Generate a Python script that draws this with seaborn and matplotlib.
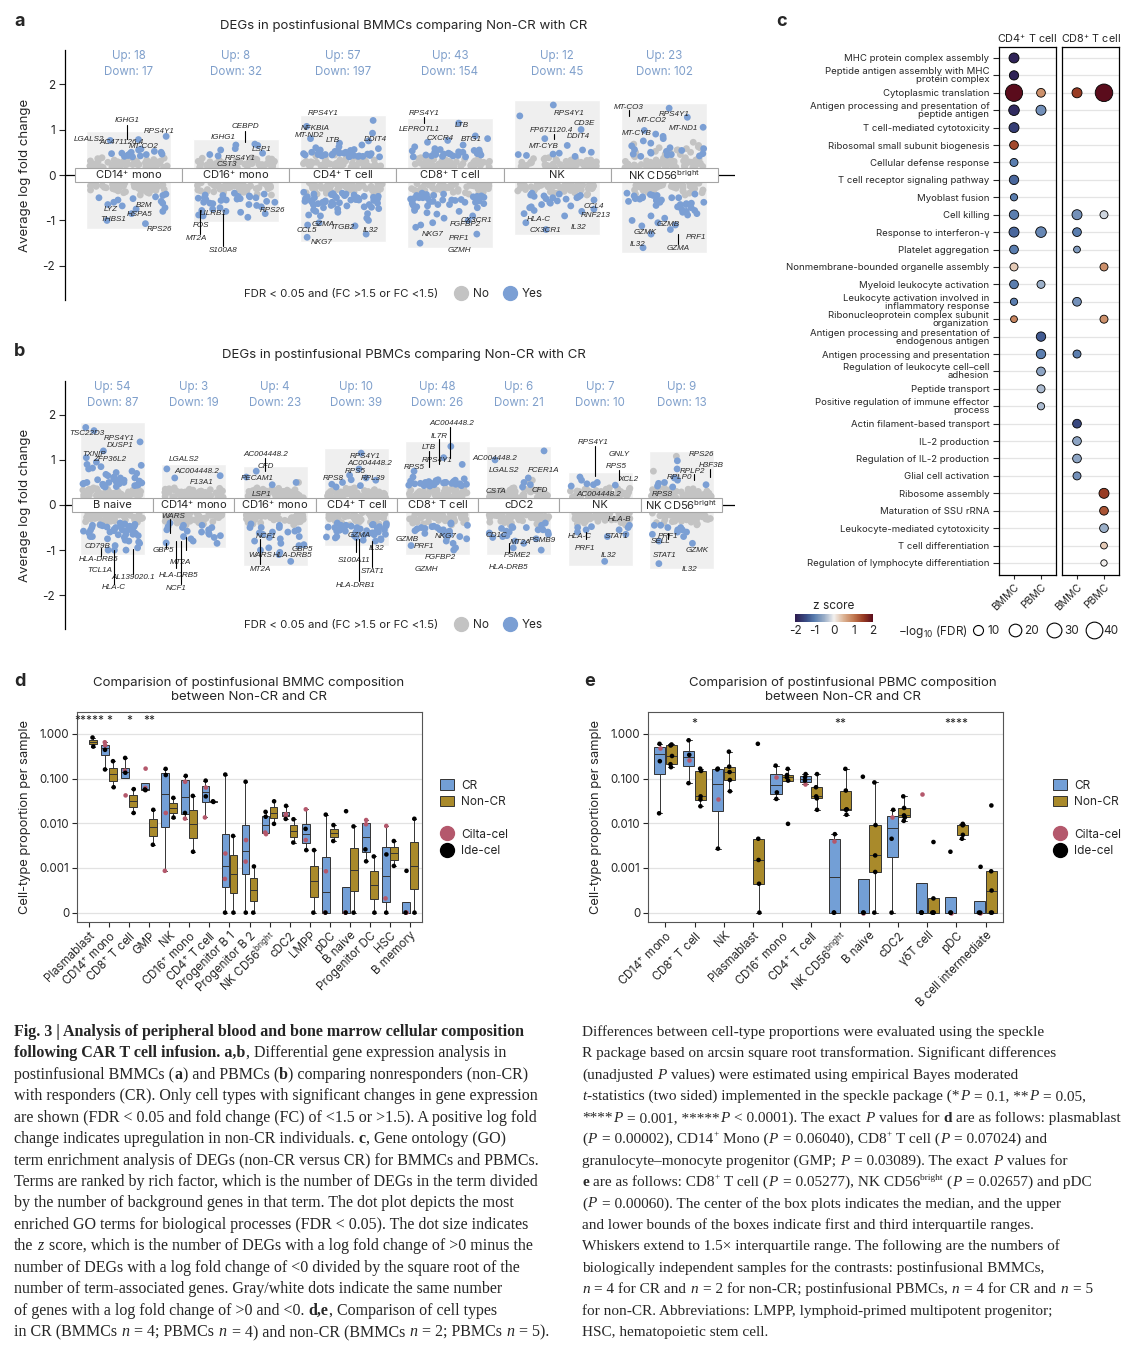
import numpy as np
import pandas as pd
import matplotlib
matplotlib.use("Agg")
import matplotlib.pyplot as plt
import seaborn as sns
from matplotlib.colors import LinearSegmentedColormap, Normalize
from matplotlib.lines import Line2D
from matplotlib.patches import Patch

W, H = 1142, 1350

sns.set_style("white")
plt.rcParams["font.family"] = ["Inter", "DejaVu Sans"]
plt.rcParams["mathtext.fontset"] = "custom"
plt.rcParams["mathtext.rm"] = "Inter"
plt.rcParams["mathtext.it"] = "Inter"
plt.rcParams["mathtext.bf"] = "Inter:bold"
plt.rcParams["axes.unicode_minus"] = False

GREY = "#c3c3c3"
BLUE = "#7b9fd4"
UPC = "#7f9fcb"
CRC = "#739fd6"
NCRC = "#a98a2b"
PINK = "#b4586c"

# ---------------- data: panels a / b (log fold change per gene) ----------------
grey_up = [0.16, 0.31, 0.22, 0.18, 0.27, 0.35, 0.2, 0.24, 0.17, 0.29, 0.33, 0.19, 0.26, 0.21, 0.38,
           0.23, 0.16, 0.3, 0.25, 0.18, 0.28, 0.34, 0.2, 0.22, 0.36, 0.17, 0.27, 0.24, 0.19, 0.32,
           0.21, 0.26, 0.18, 0.3, 0.23, 0.37, 0.2, 0.25, 0.28, 0.17, 0.22, 0.29, 0.19, 0.33, 0.24,
           0.18, 0.26, 0.31, 0.2, 0.35, 0.23, 0.28, 0.17, 0.3, 0.21]
grey_dn = [-0.17, -0.33, -0.24, -0.2, -0.29, -0.38, -0.22, -0.26, -0.18, -0.31, -0.36, -0.21, -0.28,
           -0.23, -0.42, -0.25, -0.17, -0.32, -0.27, -0.19, -0.3, -0.37, -0.22, -0.24, -0.4, -0.18,
           -0.29, -0.26, -0.2, -0.35, -0.23, -0.28, -0.19, -0.33, -0.25, -0.44, -0.21, -0.27, -0.3,
           -0.18, -0.24, -0.31, -0.2, -0.36, -0.26, -0.19, -0.28, -0.34, -0.22, -0.39, -0.25, -0.3,
           -0.18, -0.32, -0.23]

a_cells = ["CD14+ mono", "CD16+ mono", "CD4+ T cell", "CD8+ T cell", "NK", "NK CD56bright"]
a_disp = ["CD14$^{+}$ mono", "CD16$^{+}$ mono", "CD4$^{+}$ T cell", "CD8$^{+}$ T cell", "NK",
          "NK CD56$^{\\mathrm{bright}}$"]
a_up_n = [18, 8, 57, 43, 12, 23]
a_down_n = [17, 32, 197, 154, 45, 102]
a_yes_up = [
    [0.85, 0.78, 0.76, 0.57, 0.55, 0.52, 0.5, 0.5, 0.48, 0.47, 0.47, 0.46, 0.45, 0.44, 0.43, 0.42, 0.41, 0.4],
    [0.68, 0.66, 0.65, 0.58, 0.55, 0.48, 0.45, 0.42],
    [1.2, 1.07, 0.92, 0.8, 0.75, 0.7, 0.66, 0.62, 0.6, 0.58, 0.56, 0.55, 0.54, 0.53, 0.52, 0.51, 0.5, 0.5,
     0.49, 0.48, 0.48, 0.47, 0.47, 0.46, 0.46, 0.45, 0.45, 0.44, 0.44, 0.43, 0.43, 0.42, 0.42, 0.41, 0.41,
     0.4, 0.4, 0.52, 0.5, 0.47],
    [1.14, 0.86, 0.8, 0.76, 0.72, 0.66, 0.62, 0.58, 0.56, 0.54, 0.53, 0.52, 0.5, 0.5, 0.49, 0.48, 0.47,
     0.46, 0.46, 0.45, 0.44, 0.44, 0.43, 0.42, 0.42, 0.41, 0.4, 0.4, 0.55, 0.51],
    [1.54, 1.3, 1.0, 0.8, 0.65, 0.55, 0.5, 0.48, 0.46, 0.45, 0.43, 0.41],
    [1.47, 1.27, 1.05, 0.98, 0.9, 0.85, 0.8, 0.75, 0.7, 0.64, 0.6, 0.58, 0.56, 0.54, 0.52, 0.5, 0.48,
     0.47, 0.46, 0.45, 0.44, 0.42, 0.41],
]
a_yes_dn = [
    [-0.42, -0.45, -0.48, -0.5, -0.52, -0.55, -0.58, -0.6, -0.62, -0.65, -0.68, -0.72, -0.75, -0.8, -0.85,
     -1.0, -1.07],
    [-0.4, -0.42, -0.44, -0.45, -0.47, -0.48, -0.5, -0.5, -0.52, -0.53, -0.55, -0.56, -0.58, -0.6, -0.62,
     -0.63, -0.65, -0.67, -0.7, -0.72, -0.75, -0.78, -0.8, -0.82, -0.85, -0.88, -0.9, -0.93, -0.46, -0.54,
     -0.6, -0.51],
    [-0.38, -0.4, -0.41, -0.42, -0.43, -0.44, -0.45, -0.46, -0.47, -0.48, -0.49, -0.5, -0.5, -0.51, -0.52,
     -0.53, -0.54, -0.55, -0.55, -0.56, -0.57, -0.58, -0.59, -0.6, -0.6, -0.61, -0.62, -0.63, -0.64, -0.65,
     -0.66, -0.67, -0.68, -0.7, -0.71, -0.72, -0.74, -0.75, -0.77, -0.8, -0.82, -0.85, -0.88, -0.9, -0.95,
     -1.0, -1.05, -1.1, -1.12, -1.3, -1.37, -0.45, -0.5, -0.55, -0.6, -0.65, -0.42, -0.47, -0.52, -0.57],
    [-0.4, -0.42, -0.43, -0.44, -0.45, -0.46, -0.47, -0.48, -0.49, -0.5, -0.51, -0.52, -0.53, -0.54, -0.55,
     -0.56, -0.57, -0.58, -0.59, -0.6, -0.62, -0.63, -0.65, -0.66, -0.68, -0.7, -0.72, -0.75, -0.78, -0.8,
     -0.83, -0.86, -0.9, -0.95, -1.0, -1.05, -1.1, -1.15, -1.3, -1.5, -0.45, -0.5, -0.55, -0.6, -0.65],
    [-0.4, -0.42, -0.44, -0.45, -0.47, -0.48, -0.5, -0.5, -0.52, -0.55, -0.57, -0.6, -0.62, -0.65, -0.68,
     -0.7, -0.72, -0.75, -0.78, -0.8, -0.85, -0.9, -1.05, -1.2, -0.46, -0.53],
    [-0.4, -0.42, -0.43, -0.45, -0.46, -0.48, -0.5, -0.5, -0.52, -0.53, -0.55, -0.56, -0.58, -0.6, -0.62,
     -0.63, -0.65, -0.67, -0.7, -0.72, -0.75, -0.78, -0.8, -0.82, -0.85, -0.88, -0.9, -0.95, -1.0, -1.05,
     -1.1, -1.12, -1.2, -1.3, -1.6, -0.45, -0.5, -0.55, -0.6, -0.65],
]
a_no_extra = [[], [], [0.42, 0.4, 0.44], [], [], [0.72, 0.68, 0.65, 0.62, 0.6, 0.58, 0.55, 0.52, 0.5, 0.48,
                                                 0.46, 0.44, 0.42, 0.55, 0.5, 0.45, 0.6, 0.4]]
a_genes = [
    (0, "IGHG1", -0.01, 1.21), (0, "LGALS2", -0.37, 0.79), (0, "AC471126.4", -0.07, 0.72),
    (0, "MT-CO2", 0.14, 0.62), (0, "RPS4Y1", 0.29, 0.95), (0, "LYZ", -0.17, -0.75), (0, "B2M", 0.14, -0.68),
    (0, "HSPA5", 0.1, -0.87), (0, "THBS1", -0.14, -0.97), (0, "RPS26", 0.29, -1.19),
    (1, "CEBPD", 0.09, 1.07), (1, "IGHG1", -0.12, 0.83), (1, "LSP1", 0.24, 0.56), (1, "RPS4Y1", 0.04, 0.36),
    (1, "CST3", -0.08, 0.23), (1, "LILRB1", -0.21, -0.84), (1, "FOS", -0.32, -1.11), (1, "MT2A", -0.37, -1.4),
    (1, "S100A8", -0.12, -1.66), (1, "RPS26", 0.34, -0.79),
    (2, "RPS4Y1", -0.18, 1.35), (2, "NFKBIA", -0.26, 1.03), (2, "MT-ND2", -0.31, 0.87), (2, "LTB", -0.09, 0.76),
    (2, "DDIT4", 0.3, 0.78), (2, "GZMA", -0.18, -1.08), (2, "ITGB2", 0.0, -1.15), (2, "CCL5", -0.34, -1.22),
    (2, "NKG7", -0.2, -1.48), (2, "IL32", 0.26, -1.22),
    (3, "RPS4Y1", -0.24, 1.36), (3, "LEPROTL1", -0.29, 1.0), (3, "LTB", 0.11, 1.08), (3, "CXCR4", -0.09, 0.81),
    (3, "BTG1", 0.2, 0.79), (3, "CX3CR1", 0.25, -0.99), (3, "FGFBP2", 0.14, -1.1), (3, "NKG7", -0.16, -1.32),
    (3, "PRF1", 0.08, -1.4), (3, "GZMH", 0.09, -1.66),
    (4, "RPS4Y1", 0.11, 1.36), (4, "CD3E", 0.25, 1.14), (4, "FP671120.4", -0.05, 0.98), (4, "DDIT4", 0.2, 0.84),
    (4, "MT-CYB", -0.13, 0.63), (4, "CCL4", 0.34, -0.69), (4, "RNF213", 0.36, -0.89), (4, "HLA-C", -0.17, -0.97),
    (4, "IL32", 0.2, -1.16), (4, "CX3CR1", -0.11, -1.22),
    (5, "MT-CO3", -0.33, 1.49), (5, "MT-CO2", -0.12, 1.21), (5, "RPS4Y1", 0.09, 1.32), (5, "MT-ND1", 0.18, 1.03),
    (5, "MT-CYB", -0.26, 0.91), (5, "GZMB", 0.04, -1.08), (5, "GZMK", -0.18, -1.27), (5, "PRF1", 0.3, -1.37),
    (5, "GZMA", 0.13, -1.62), (5, "IL32", -0.25, -1.53),
]
a_leaders = [(0, -0.01, 1.1, 0.8), (1, 0.09, 0.97, 0.72), (1, -0.33, -0.78, -1.3), (1, -0.12, -0.86, -1.56),
             (3, -0.24, 1.28, 1.15), (4, -0.03, 0.9, 0.8), (5, -0.33, 1.42, 1.3), (5, 0.13, -1.52, -1.3)]

b_cells = ["B naive", "CD14+ mono", "CD16+ mono", "CD4+ T cell", "CD8+ T cell", "cDC2", "NK", "NK CD56bright"]
b_disp = ["B naive", "CD14$^{+}$ mono", "CD16$^{+}$ mono", "CD4$^{+}$ T cell", "CD8$^{+}$ T cell", "cDC2", "NK",
          "NK CD56$^{\\mathrm{bright}}$"]
b_up_n = [54, 3, 4, 10, 48, 6, 7, 9]
b_down_n = [87, 19, 23, 39, 26, 21, 10, 13]
b_yes_up = [
    [1.72, 1.65, 1.4, 1.2, 1.05, 0.95, 0.9, 0.88, 0.85, 0.82, 0.8, 0.75, 0.72, 0.7, 0.68, 0.65, 0.62, 0.6,
     0.58, 0.56, 0.55, 0.53, 0.52, 0.5, 0.5, 0.49, 0.48, 0.47, 0.46, 0.45, 0.45, 0.44, 0.43, 0.42, 0.41,
     0.4, 0.6, 0.55, 0.5, 0.47],
    [0.8, 0.65, 0.6],
    [0.75, 0.62, 0.5, 0.45],
    [1.15, 0.8, 0.66, 0.6, 0.56, 0.55, 0.5, 0.46, 0.43, 0.4],
    [1.3, 1.05, 0.9, 0.75, 0.62, 0.58, 0.56, 0.55, 0.54, 0.53, 0.52, 0.52, 0.51, 0.5, 0.5, 0.49, 0.49, 0.48,
     0.48, 0.47, 0.47, 0.46, 0.46, 0.45, 0.45, 0.44, 0.44, 0.43, 0.43, 0.42, 0.5, 0.48],
    [1.2, 1.0, 0.6, 0.5, 0.45, 0.4],
    [0.62, 0.55, 0.5, 0.47, 0.45, 0.44, 0.42],
    [0.98, 0.8, 0.6, 0.55, 0.5, 0.48, 0.45, 0.42, 0.4],
]
b_yes_dn = [
    [-0.4, -0.42, -0.43, -0.44, -0.45, -0.46, -0.47, -0.48, -0.49, -0.5, -0.51, -0.52, -0.53, -0.54, -0.55,
     -0.56, -0.57, -0.58, -0.6, -0.62, -0.63, -0.65, -0.66, -0.68, -0.7, -0.72, -0.75, -0.78, -0.8, -0.82,
     -0.85, -0.9, -0.95, -1.0, -1.0, -1.0, -0.45, -0.5, -0.55, -0.6, -0.65, -0.7, -0.47, -0.52],
    [-0.4, -0.45, -0.5, -0.5, -0.55, -0.55, -0.6, -0.62, -0.65, -0.68, -0.7, -0.72, -0.75, -0.8, -0.84,
     -0.85, -0.45, -0.58, -0.48],
    [-0.42, -0.45, -0.5, -0.5, -0.55, -0.58, -0.6, -0.62, -0.65, -0.7, -0.72, -0.75, -0.8, -0.85, -0.88,
     -0.9, -0.95, -1.0, -1.05, -1.1, -1.25, -0.5, -0.6],
    [-0.4, -0.42, -0.44, -0.45, -0.47, -0.5, -0.5, -0.52, -0.55, -0.56, -0.58, -0.6, -0.62, -0.65, -0.67,
     -0.7, -0.72, -0.75, -0.78, -0.8, -0.45, -0.5, -0.55, -0.6, -0.48, -0.53, -0.58, -0.63, -0.68, -0.73,
     -0.43, -0.46, -0.52, -0.57, -0.62, -0.66, -0.71, -0.77, -0.49],
    [-0.4, -0.45, -0.48, -0.5, -0.52, -0.55, -0.58, -0.6, -0.62, -0.65, -0.68, -0.7, -0.72, -0.75, -0.8,
     -0.85, -0.9, -0.95, -1.0, -0.47, -0.53, -0.57, -0.63, -0.42, -0.5, -0.55],
    [-0.4, -0.45, -0.48, -0.5, -0.52, -0.55, -0.58, -0.6, -0.62, -0.65, -0.68, -0.7, -0.72, -0.75, -0.8,
     -0.85, -0.95, -1.0, -0.5, -0.55, -0.6],
    [-0.45, -0.5, -0.55, -0.55, -0.6, -0.7, -0.5, -0.48, -0.65, -1.25],
    [-0.45, -0.5, -0.5, -0.55, -0.55, -0.6, -0.6, -0.65, -0.7, -0.8, -0.85, -0.45, -1.3],
]
b_no_extra = [[], [], [0.5], [], [], [0.5, 0.55], [], [1.08, 0.75, 0.62]]
b_genes = [
    (0, "TSC22D3", -0.32, 1.58), (0, "RPS4Y1", 0.08, 1.48), (0, "DUSP1", 0.09, 1.31), (0, "TXNIP", -0.23, 1.13),
    (0, "ZFP36L2", -0.04, 1.01), (0, "CD79B", -0.19, -0.91), (0, "HLA-DRB5", -0.17, -1.21),
    (0, "TCL1A", -0.16, -1.46), (0, "AL139020.1", 0.25, -1.6), (0, "HLA-C", 0.02, -1.84),
    (1, "LGALS2", -0.12, 1.02), (1, "AC004448.2", 0.04, 0.74), (1, "F13A1", 0.09, 0.5), (1, "WARS", -0.25, -0.26),
    (1, "GBP5", -0.37, -1.02), (1, "MT2A", -0.17, -1.28), (1, "HLA-DRB5", -0.19, -1.56), (1, "NCF1", -0.22, -1.85),
    (2, "AC004448.2", -0.11, 1.13), (2, "CFD", -0.12, 0.85), (2, "PECAM1", -0.22, 0.58), (2, "LSP1", -0.16, 0.24),
    (2, "NCF1", -0.11, -0.7), (2, "WARS", -0.18, -1.11), (2, "GBP5", 0.33, -0.98), (2, "HLA-DRB5", 0.22, -1.13),
    (2, "MT2A", -0.18, -1.43),
    (3, "RPS4Y1", 0.11, 1.07), (3, "AC004448.2", 0.17, 0.91), (3, "RPS5", -0.01, 0.74), (3, "RPS8", -0.28, 0.58),
    (3, "RPL39", 0.21, 0.58), (3, "GZMA", 0.03, -0.67), (3, "IL32", 0.25, -0.96), (3, "S100A11", -0.03, -1.22),
    (3, "STAT1", 0.2, -1.48), (3, "HLA-DRB1", -0.01, -1.78),
    (4, "AC004448.2", 0.18, 1.8), (4, "IL7R", 0.02, 1.53), (4, "LTB", -0.11, 1.27), (4, "RPS4Y1", -0.01, 0.99),
    (4, "RPS5", -0.29, 0.84), (4, "GZMB", -0.38, -0.76), (4, "PRF1", -0.17, -0.92), (4, "NKG7", 0.1, -0.69),
    (4, "FGFBP2", 0.03, -1.16), (4, "GZMH", -0.14, -1.44),
    (5, "AC004448.2", -0.3, 1.04), (5, "LGALS2", -0.18, 0.76), (5, "FCER1A", 0.3, 0.76), (5, "CSTA", -0.28, 0.3),
    (5, "CFD", 0.26, 0.32), (5, "CD1C", -0.27, -0.67), (5, "MT2A", 0.02, -0.84), (5, "PSMB9", 0.29, -0.79),
    (5, "PSME2", -0.02, -1.11), (5, "HLA-DRB5", -0.13, -1.39),
    (6, "RPS4Y1", -0.09, 1.39), (6, "GNLY", 0.24, 1.11), (6, "RPS5", 0.2, 0.85), (6, "XCL2", 0.35, 0.57),
    (6, "AC004448.2", -0.01, 0.24), (6, "HLA-B", 0.24, -0.33), (6, "HLA-C", -0.25, -0.7), (6, "STAT1", 0.2, -0.69),
    (6, "PRF1", -0.19, -0.96), (6, "IL32", 0.1, -1.11),
    (7, "RPS26", 0.25, 1.13), (7, "H3F3B", 0.37, 0.87), (7, "RPLP2", 0.14, 0.74), (7, "RPLP0", -0.02, 0.61),
    (7, "RPS8", -0.23, 0.24), (7, "PRF1", -0.16, -0.69), (7, "SELL", -0.25, -0.8), (7, "STAT1", -0.2, -1.13),
    (7, "GZMK", 0.2, -1.01), (7, "IL32", 0.1, -1.44),
]
b_leaders = [(0, -0.14, -0.95, -1.13), (0, 0.02, -1.0, -1.76), (0, 0.25, -0.98, -1.52), (1, -0.29, -0.32, -0.62),
             (1, -0.34, -0.84, -0.95), (1, -0.22, -0.8, -1.4), (1, -0.16, -0.8, -1.75), (1, -0.1, -0.72, -1.0),
             (2, -0.13, 1.05, 0.75), (2, -0.18, -0.75, -1.3), (3, 0.0, -0.75, -1.05), (3, 0.03, -0.75, -1.68),
             (3, 0.19, -0.8, -1.38), (4, 0.15, 1.72, 1.05), (4, 0.02, 1.46, 0.92), (4, -0.11, 1.2, 0.85),
             (5, -0.12, -0.85, -1.05), (6, -0.06, 1.3, 0.65), (6, 0.23, 0.78, 0.55), (6, -0.17, -0.6, -0.75),
             (7, 0.35, 0.8, 0.62), (7, 0.15, 0.68, 0.55), (7, -0.16, -0.62, -0.75)]

# ---------------- data: panel c (GO enrichment) ----------------
c_terms = [
    "MHC protein complex assembly", "Peptide antigen assembly with MHC\nprotein complex",
    "Cytoplasmic translation", "Antigen processing and presentation of\npeptide antigen",
    "T cell-mediated cytotoxicity", "Ribosomal small subunit biogenesis", "Cellular defense response",
    "T cell receptor signaling pathway", "Myoblast fusion", "Cell killing", "Response to interferon-γ",
    "Platelet aggregation", "Nonmembrane-bounded organelle assembly", "Myeloid leukocyte activation",
    "Leukocyte activation involved in\ninflammatory response", "Ribonucleoprotein complex subunit\norganization",
    "Antigen processing and presentation of\nendogenous antigen", "Antigen processing and presentation",
    "Regulation of leukocyte cell–cell\nadhesion", "Peptide transport",
    "Positive regulation of immune effector\nprocess", "Actin filament-based transport", "IL-2 production",
    "Regulation of IL-2 production", "Glial cell activation", "Ribosome assembly", "Maturation of SSU rRNA",
    "Leukocyte-mediated cytotoxicity", "T cell differentiation", "Regulation of lymphocyte differentiation",
]
c_cell = ["CD4"] * 25 + ["CD8"] * 19
c_tissue = ["BMMC"] * 16 + ["PBMC"] * 9 + ["BMMC"] * 10 + ["PBMC"] * 9
c_term = (list(range(16)) + [2, 3, 10, 13, 16, 17, 18, 19, 20] + [2, 9, 10, 11, 14, 17, 21, 22, 23, 24]
          + [2, 9, 12, 15, 25, 26, 27, 28, 29])
c_z = [-1.9, -1.9, 2.0, -1.8, -1.6, 1.4, -1.0, -1.2, -1.0, -1.0, -1.2, -1.0, 0.3, -1.0, -1.0, 0.9,
       0.8, -0.8, -0.9, -0.5, -1.3, -1.0, -0.6, -0.4, -0.4,
       1.5, -0.8, -1.0, -0.7, -0.8, -1.0, -1.5, -0.6, -0.6, -0.8,
       2.0, -0.2, 0.8, 0.8, 1.5, 1.3, -0.5, 0.3, 0.0]
c_fdr = [10, 7.7, 43, 12, 10, 6, 4, 8, 2, 8, 10, 6, 4, 6, 2, 1,
         6, 10, 12, 4, 8, 8, 6, 4, 2,
         10, 10, 6, 1, 6, 4, 6, 6, 6, 4,
         47, 4, 4, 4, 10, 6, 6, 1, 0]

# ---------------- data: panels d / e (cell-type proportions) ----------------
d_cells = ["Plasmablast", "CD14+ mono", "CD8+ T cell", "GMP", "NK", "CD16+ mono", "CD4+ T cell",
           "Progenitor B 1", "Progenitor B 2", "NK CD56bright", "cDC2", "LMPP", "pDC", "B naive",
           "Progenitor DC", "HSC", "B memory"]
d_disp = ["Plasmablast", "CD14$^{+}$ mono", "CD8$^{+}$ T cell", "GMP", "NK", "CD16$^{+}$ mono",
          "CD4$^{+}$ T cell", "Progenitor B 1", "Progenitor B 2", "NK CD56$^{\\mathrm{bright}}$", "cDC2", "LMPP",
          "pDC", "B naive", "Progenitor DC", "HSC", "B memory"]
d_cr_prod = ["Cilta-cel", "Cilta-cel", "Ide-cel", "Ide-cel"]
d_cr = [[], [0.65, 0.55, 0.44, 0.16], [0.15, 0.042, 0.29, 0.135], [0.167, 0.062, 0.057, 0.055],
        [0.017, 0.00085, 0.165, 0.12], [0.085, 0.0127, 0.115, 0.017], [0.063, 0.0135, 0.09, 0.04],
        [0.0021, 0.00055, 0.123, 0], [0.0042, 0.00138, 0.085, 0], [0.0062, 0.0057, 0.018, 0.014],
        [0.016, 0.015, 0.0245, 0.0125], [0.0205, 0.0042, 0.0075, 0.0025], [0.00083, 0, 0.0156, 0],
        [0, 0, 0.0186, 0], [0.0118, 0.0095, 0.0026, 0.0014], [0.0087, 0.00016, 0.002, 0],
        [0, 0, 0.00085, 0]]
d_ncr = [[0.83, 0.52], [0.245, 0.064], [0.058, 0.017], [0.02, 0.0033], [0.037, 0.0134], [0.041, 0.0023],
         [0.031, 0.030], [0.0052, 0], [0.00107, 0], [0.031, 0.0097], [0.0123, 0.0037], [0.0025, 0],
         [0.0091, 0.004], [0.0085, 0], [0.0018, 0], [0.004, 0.0011], [0.0126, 0]]
d_stars = {0: "*****", 1: "*", 2: "*", 3: "**"}

e_cells = ["CD14+ mono", "CD8+ T cell", "NK", "Plasmablast", "CD16+ mono", "CD4+ T cell", "NK CD56bright",
           "B naive", "cDC2", "gdT cell", "pDC", "B cell intermediate"]
e_disp = ["CD14$^{+}$ mono", "CD8$^{+}$ T cell", "NK", "Plasmablast", "CD16$^{+}$ mono", "CD4$^{+}$ T cell",
          "NK CD56$^{\\mathrm{bright}}$", "B naive", "cDC2", "γδT cell", "pDC", "B cell intermediate"]
e_cr_prod = ["Cilta-cel", "Ide-cel", "Ide-cel", "Ide-cel"]
e_cr = [[0.49, 0.6, 0.245, 0.0167], [0.26, 0.72, 0.34, 0.079], [0.035, 0.167, 0.16, 0.0027], [],
        [0.107, 0.195, 0.049, 0.035], [0.075, 0.126, 0.107, 0.09], [0.0041, 0.0057, 0, 0], [0, 0.11, 0, 0],
        [0.0135, 0.02, 0.0045, 0], [0.045, 0, 0, 0], [0, 0.0023, 0, 0], [0, 0.00105, 0, 0]]
e_ncr = [[0.58, 0.55, 0.32, 0.21, 0.18], [0.167, 0.148, 0.04, 0.034, 0.024], [0.4, 0.185, 0.14, 0.093, 0.052],
         [0.6, 0.0045, 0.0015, 0.00042, 0], [0.165, 0.12, 0.107, 0.09, 0.0097], [0.126, 0.064, 0.04, 0.036, 0.02],
         [0.165, 0.054, 0.0205, 0.02, 0.0155], [0.082, 0.0091, 0.0019, 0.0008, 0],
         [0.04, 0.022, 0.015, 0.0135, 0.0113], [0.0038, 0.00016, 0, 0, 0], [0.0097, 0.0093, 0.009, 0.0055, 0.0045],
         [0.025, 0.00083, 0.00028, 0, 0]]
e_stars = {1: "*", 6: "**", 10: "****"}

prop_ticks = [0, 0.001, 0.01, 0.1, 1.0]
prop_tick_labels = ["0", "0.001", "0.010", "0.100", "1.000"]


def rect(x0, y0, x1, y1):
    return [x0 / W, 1 - y1 / H, (x1 - x0) / W, (y1 - y0) / H]


def pseudo_log(v):
    return np.arcsinh(np.asarray(v, dtype=float) / 2e-4) / np.log(10)


fig = plt.figure(figsize=(W / 100, H / 100), dpi=100)
np.random.seed(11)


# ---------------- panels a / b ----------------
def deg_panel(ax, cells, disp, yes_up, yes_dn, no_extra, up_n, dn_n, genes, leaders, xlim):
    rows = []
    for i, c in enumerate(cells):
        for v in grey_up + grey_dn + no_extra[i]:
            rows.append((c, v, "No"))
        for v in yes_up[i] + yes_dn[i]:
            rows.append((c, v, "Yes"))
    df = pd.DataFrame(rows, columns=["cell", "lfc", "sig"])
    span = df.groupby("cell")["lfc"].agg(["min", "max"]).reindex(cells)
    pos = np.arange(len(cells))
    ax.bar(pos, span["max"] - span["min"] + 0.22, bottom=span["min"] - 0.11, width=0.8,
           color="#efefef", zorder=0)
    ax.axhline(0, color="black", lw=0.9, zorder=1)
    sns.stripplot(data=df, x="cell", y="lfc", hue="sig", order=cells, hue_order=["No", "Yes"],
                  palette={"No": GREY, "Yes": BLUE}, jitter=0.37, size=4.9, linewidth=0,
                  legend=False, ax=ax, zorder=2)
    ax.bar(pos, 0.3, bottom=-0.15, width=1.0, color="white", edgecolor="#a5a5a5", linewidth=0.8, zorder=4)
    for i, lab in enumerate(disp):
        ax.text(i, 0, lab, ha="center", va="center", fontsize=8, zorder=5)
        ax.text(i, 2.62, f"Up: {up_n[i]}", ha="center", va="center", fontsize=8.3, color=UPC)
        ax.text(i, 2.26, f"Down: {dn_n[i]}", ha="center", va="center", fontsize=8.3, color=UPC)
    for col, g, dx, y in genes:
        ax.text(col + dx, y, g, ha="center", va="center", fontsize=5.8, style="italic",
                family="Liberation Sans", zorder=6)
    for col, dx, y0, y1 in leaders:
        ax.plot([col + dx, col + dx], [y0, y1], color="black", lw=0.8, zorder=6)
    ax.set_xlim(*xlim)
    ax.set_ylim(-2.75, 2.75)
    ax.set_yticks([-2, -1, 0, 1, 2], ["-2", "-1", "0", "1", "2"])
    ax.set_xticks([])
    ax.set_xlabel("")
    ax.set_ylabel("Average log fold change", fontsize=9.5, labelpad=8)
    ax.tick_params(axis="y", length=4, width=0.8, labelsize=8.5, left=True, pad=3)
    sns.despine(ax=ax, bottom=True)
    ax.spines["left"].set_linewidth(0.9)
    ax.spines["left"].set_color("black")


ax_a = fig.add_axes(rect(65, 50, 735, 300))
deg_panel(ax_a, a_cells, a_disp, a_yes_up, a_yes_dn, a_no_extra, a_up_n, a_down_n, a_genes, a_leaders,
          (-0.593, 5.66))
ax_b = fig.add_axes(rect(65, 381, 735, 629))
deg_panel(ax_b, b_cells, b_disp, b_yes_up, b_yes_dn, b_no_extra, b_up_n, b_down_n, b_genes, b_leaders,
          (-0.586, 7.66))

for ytxt, title in [(26, "DEGs in postinfusional BMMCs comparing Non-CR with CR"),
                    (355, "DEGs in postinfusional PBMCs comparing Non-CR with CR")]:
    fig.text(404 / W, 1 - ytxt / H, title, ha="center", va="center", fontsize=9.5)
for ytxt in [294, 625]:
    fig.text(341 / W, 1 - ytxt / H, "FDR < 0.05 and (FC >1.5 or FC <1.5)", ha="center", va="center",
             fontsize=8.2)
    hnd = [Line2D([], [], marker="o", ls="none", mfc=GREY, mec=GREY, ms=10),
           Line2D([], [], marker="o", ls="none", mfc=BLUE, mec=BLUE, ms=10)]
    fig.legend(hnd, ["No", "Yes"], ncol=2, loc="center left", bbox_to_anchor=(443 / W, 1 - ytxt / H),
               frameon=False, fontsize=8.5, handletextpad=0.4, columnspacing=1.2, handlelength=1.2)

# ---------------- panel c ----------------
zcmap = LinearSegmentedColormap.from_list("zs", [
    (0.0, "#2d1b4e"), (0.15, "#3a4f88"), (0.25, "#5a7eaf"), (0.375, "#9aaec8"), (0.5, "#f2f0ee"),
    (0.625, "#dcb394"), (0.75, "#c27a52"), (0.875, "#9a3d24"), (1.0, "#5a0c1c")])
df_c = pd.DataFrame({"cell": c_cell, "tissue": c_tissue, "term": c_term, "z": c_z, "fdr": c_fdr})
df_c["xpos"] = df_c["tissue"].map({"BMMC": 0, "PBMC": 1})
SIZES = (20.9, 160.0)
SNORM = (0, 45)

ax_c1 = fig.add_axes(rect(999, 47, 1056, 575))
ax_c2 = fig.add_axes(rect(1062, 47, 1119, 575))
for ax, cell, ttl in [(ax_c1, "CD4", "CD4$^{+}$ T cell"), (ax_c2, "CD8", "CD8$^{+}$ T cell")]:
    for r in range(len(c_terms)):
        ax.axhline(r, color="#e4e4e4", lw=0.9, zorder=0)
    sns.scatterplot(data=df_c[df_c["cell"] == cell], x="xpos", y="term", hue="z", size="fdr",
                    palette=zcmap, hue_norm=(-2, 2), sizes=SIZES, size_norm=SNORM,
                    edgecolor="black", linewidth=0.6, legend=False, ax=ax, zorder=3)
    ax.set_xlim(-0.556, 1.556)
    ax.set_ylim(len(c_terms) - 1 + 0.69, -0.63)
    ax.set_xticks([0, 1], ["BMMC", "PBMC"], rotation=45, ha="right", rotation_mode="anchor", fontsize=7.5)
    ax.set_xlabel("")
    ax.set_ylabel("")
    ax.set_title(ttl, fontsize=7.8, pad=3)
    ax.tick_params(axis="x", length=3, width=0.8, bottom=True, pad=2)
    for sp in ax.spines.values():
        sp.set_color("black")
        sp.set_linewidth(0.9)
ax_c1.set_yticks(range(len(c_terms)), c_terms, fontsize=6.9)
ax_c1.tick_params(axis="y", length=4, width=0.8, left=True, pad=3)
for lab in ax_c1.get_yticklabels():
    lab.set_linespacing(0.85)
ax_c2.set_yticks([])

cax = fig.add_axes(rect(795, 614, 873, 622))
cb = matplotlib.colorbar.ColorbarBase(cax, cmap=zcmap, norm=Normalize(-2, 2), orientation="horizontal",
                                      ticks=[-2, -1, 0, 1, 2])
cb.outline.set_visible(False)
cax.set_xticklabels(["-2", "-1", "0", "1", "2"])
cax.tick_params(length=0, labelsize=8.5, pad=2)
fig.text(834 / W, 1 - 606 / H, "z score", ha="center", va="center", fontsize=8.5)

fig.text(898 / W, 1 - 631 / H, "−log$_{10}$ (FDR)", ha="left", va="center", fontsize=8.5)
size_handles = []
for v in [10, 20, 30, 40]:
    s = SIZES[0] + (v - SNORM[0]) / (SNORM[1] - SNORM[0]) * (SIZES[1] - SIZES[0])
    size_handles.append(Line2D([], [], marker="o", ls="none", mfc="white", mec="black", mew=0.8,
                               ms=np.sqrt(s)))
fig.legend(size_handles, ["10", "20", "30", "40"], ncol=4, loc="center left",
           bbox_to_anchor=(961 / W, 1 - 631 / H), frameon=False, fontsize=8.5, handletextpad=0.35,
           columnspacing=0.75, handlelength=1.0)


# ---------------- panels d / e ----------------
def comp_panel(ax, cells, disp, cr_vals, cr_prod, ncr_vals, stars, star_y):
    rows = []
    for i, c in enumerate(cells):
        for v, p in zip(cr_vals[i], cr_prod):
            rows.append((c, "CR", p, v))
        for v in ncr_vals[i]:
            rows.append((c, "Non-CR", "Ide-cel", v))
    df = pd.DataFrame(rows, columns=["cell", "group", "product", "prop"])
    df["t"] = pseudo_log(df["prop"])
    tk = pseudo_log(prop_ticks)
    for t in tk:
        ax.axhline(t, color="#e2e2e2", lw=0.9, zorder=0)
    sns.boxplot(data=df, x="cell", y="t", hue="group", order=cells, hue_order=["CR", "Non-CR"],
                palette={"CR": CRC, "Non-CR": NCRC}, saturation=1, width=0.8, gap=0.04, linewidth=0.7,
                linecolor="#333333", showfliers=False, whis=1.5, legend=False, ax=ax)
    for prod, col in [("Cilta-cel", PINK), ("Ide-cel", "black")]:
        sub = df[df["product"] == prod]
        sns.stripplot(data=sub, x="cell", y="t", hue="group", order=cells, hue_order=["CR", "Non-CR"],
                      palette={"CR": col, "Non-CR": col}, dodge=True, jitter=0.06, size=3.3, linewidth=0,
                      legend=False, ax=ax, zorder=4)
    for i, s in stars.items():
        ax.text(i, star_y, s, ha="center", va="center", fontsize=8.5)
    ax.set_yticks(tk, prop_tick_labels)
    ax.set_ylim(-0.21, 4.49)
    ax.set_xlim(-0.6, len(cells) - 0.4)
    ax.set_xticks(range(len(cells)), disp, rotation=45, ha="right", rotation_mode="anchor", fontsize=8.3)
    ax.set_xlabel("")
    ax.set_ylabel("Cell-type proportion per sample", fontsize=9.3, labelpad=6)
    ax.tick_params(axis="both", length=3.5, width=0.8, bottom=True, left=True, labelsize=8.3, pad=2)
    for sp in ax.spines.values():
        sp.set_color("#555555")
        sp.set_linewidth(0.8)
    handles = [Patch(facecolor=CRC, edgecolor="#333333", lw=0.7), Patch(facecolor=NCRC, edgecolor="#333333", lw=0.7),
               Line2D([], [], ls="none"),
               Line2D([], [], marker="o", ls="none", mfc=PINK, mec=PINK, ms=10),
               Line2D([], [], marker="o", ls="none", mfc="black", mec="black", ms=10)]
    return handles


ax_d = fig.add_axes(rect(77, 712, 422, 922))
hd = comp_panel(ax_d, d_cells, d_disp, d_cr, d_cr_prod, d_ncr, d_stars, 4.28)
ax_d.legend(hd, ["CR", "Non-CR", "", "Cilta-cel", "Ide-cel"], loc="upper left", bbox_to_anchor=(1.02, 0.73),
            frameon=False, fontsize=8.5, handlelength=1.2, handleheight=1.0, labelspacing=0.35,
            handletextpad=0.6)
ax_e = fig.add_axes(rect(648, 712, 1003, 922))
he = comp_panel(ax_e, e_cells, e_disp, e_cr, e_cr_prod, e_ncr, e_stars, 4.22)
ax_e.legend(he, ["CR", "Non-CR", "", "Cilta-cel", "Ide-cel"], loc="upper left", bbox_to_anchor=(1.11, 0.73),
            frameon=False, fontsize=8.5, handlelength=1.2, handleheight=1.0, labelspacing=0.35,
            handletextpad=0.6)

fig.text(249 / W, 1 - 690 / H, "Comparision of postinfusional BMMC composition\nbetween Non-CR and CR",
         ha="center", va="center", fontsize=9.5, linespacing=1.15)
fig.text(843 / W, 1 - 690 / H, "Comparision of postinfusional PBMC composition\nbetween Non-CR and CR",
         ha="center", va="center", fontsize=9.5, linespacing=1.15)

# panel letters
for x, y, l in [(14, 22, "a"), (14, 352, "b"), (776, 22, "c"), (14, 681, "d"), (584, 681, "e")]:
    fig.text(x / W, 1 - y / H, l, ha="left", va="center", fontsize=13, fontweight="bold")

# ---------------- caption ----------------
cap_left = [
    [("Fig. 3 | Analysis of peripheral blood and bone marrow cellular composition", "b")],
    [("following CAR T cell infusion. a,b", "b"), (", Differential gene expression analysis in", "r")],
    [("postinfusional BMMCs (", "r"), ("a", "b"), (") and PBMCs (", "r"), ("b", "b"),
     (") comparing nonresponders (non-CR)", "r")],
    [("with responders (CR). Only cell types with significant changes in gene expression", "r")],
    [("are shown (FDR < 0.05 and fold change (FC) of <1.5 or >1.5). A positive log fold", "r")],
    [("change indicates upregulation in non-CR individuals. ", "r"), ("c", "b"), (", Gene ontology (GO)", "r")],
    [("term enrichment analysis of DEGs (non-CR versus CR) for BMMCs and PBMCs.", "r")],
    [("Terms are ranked by rich factor, which is the number of DEGs in the term divided", "r")],
    [("by the number of background genes in that term. The dot plot depicts the most", "r")],
    [("enriched GO terms for biological processes (FDR < 0.05). The dot size indicates", "r")],
    [("the ", "r"), ("z", "i"), (" score, which is the number of DEGs with a log fold change of >0 minus the", "r")],
    [("number of DEGs with a log fold change of <0 divided by the square root of the", "r")],
    [("number of term-associated genes. Gray/white dots indicate the same number", "r")],
    [("of genes with a log fold change of >0 and <0. ", "r"), ("d,e", "b"), (", Comparison of cell types", "r")],
    [("in CR (BMMCs ", "r"), ("n", "i"), (" = 4; PBMCs ", "r"), ("n", "i"), (" = 4) and non-CR (BMMCs ", "r"),
     ("n", "i"), (" = 2; PBMCs ", "r"), ("n", "i"), (" = 5).", "r")],
]
cap_right = [
    [("Differences between cell-type proportions were evaluated using the speckle", "r")],
    [("R package based on arcsin square root transformation. Significant differences", "r")],
    [("(unadjusted ", "r"), ("P", "i"), (" values) were estimated using empirical Bayes moderated", "r")],
    [("t", "i"), ("-statistics (two sided) implemented in the speckle package (*", "r"), ("P", "i"),
     (" = 0.1, **", "r"), ("P", "i"), (" = 0.05,", "r")],
    [("****", "r"), ("P", "i"), (" = 0.001, *****", "r"), ("P", "i"), (" < 0.0001). The exact ", "r"), ("P", "i"),
     (" values for ", "r"), ("d", "b"), (" are as follows: plasmablast", "r")],
    [("(", "r"), ("P", "i"), (" = 0.00002), CD14", "r"), ("+", "s"), (" Mono (", "r"), ("P", "i"),
     (" = 0.06040), CD8", "r"), ("+", "s"), (" T cell (", "r"), ("P", "i"), (" = 0.07024) and", "r")],
    [("granulocyte–monocyte progenitor (GMP; ", "r"), ("P", "i"), (" = 0.03089). The exact ", "r"), ("P", "i"),
     (" values for", "r")],
    [("e", "b"), (" are as follows: CD8", "r"), ("+", "s"), (" T cell (", "r"), ("P", "i"), (" = 0.05277), NK CD56", "r"),
     ("bright", "s"), (" (", "r"), ("P", "i"), (" = 0.02657) and pDC", "r")],
    [("(", "r"), ("P", "i"), (" = 0.00060). The center of the box plots indicates the median, and the upper", "r")],
    [("and lower bounds of the boxes indicate first and third interquartile ranges.", "r")],
    [("Whiskers extend to 1.5× interquartile range. The following are the numbers of", "r")],
    [("biologically independent samples for the contrasts: postinfusional BMMCs,", "r")],
    [("n", "i"), (" = 4 for CR and ", "r"), ("n", "i"), (" = 2 for non-CR; postinfusional PBMCs, ", "r"), ("n", "i"),
     (" = 4 for CR and ", "r"), ("n", "i"), (" = 5", "r")],
    [("for non-CR. Abbreviations: LMPP, lymphoid-primed multipotent progenitor;", "r")],
    [("HSC, hematopoietic stem cell.", "r")],
]

renderer = fig.canvas.get_renderer()
CAPFONT = "Liberation Serif"


def style_kw(st, size):
    kw = {"family": CAPFONT, "fontsize": size}
    if st == "b":
        kw["fontweight"] = "bold"
    elif st == "i":
        kw["fontstyle"] = "italic"
    elif st == "s":
        kw["fontsize"] = size * 0.62
    return kw


def text_w(txt, kw):
    t = fig.text(0, 0, txt, **kw)
    w = t.get_window_extent(renderer).width
    t.remove()
    return w


_sp_cache = {}


def space_w(kw):
    key = tuple(sorted(kw.items()))
    if key not in _sp_cache:
        _sp_cache[key] = text_w("a a", kw) - text_w("aa", kw)
    return _sp_cache[key]


def draw_line(x, y, segs, size, draw=True):
    x0 = x
    for txt, st in segs:
        kw = style_kw(st, size)
        lead = len(txt) - len(txt.lstrip(" "))
        trail = len(txt) - len(txt.rstrip(" "))
        core = txt.strip(" ")
        sw = space_w(kw)
        x += lead * sw
        if core:
            if draw:
                yy = y - (size * 0.42 * 100 / 72 if st == "s" else 0)
                fig.text(x / W, 1 - yy / H, core, va="baseline", ha="left", **kw)
            x += text_w(core, kw) + (0.9 if st == "i" else 0.3)
        x += trail * sw
    return x - x0


for lines, x0, target in [(cap_left, 14, 538), (cap_right, 582, 537)]:
    base = 11.0
    widest = max(draw_line(0, 0, segs, base, draw=False) for segs in lines)
    size = base * target / widest
    for k, segs in enumerate(lines):
        draw_line(x0, 1036 + 21.43 * k, segs, size)

fig.savefig("out.png", dpi=100)
